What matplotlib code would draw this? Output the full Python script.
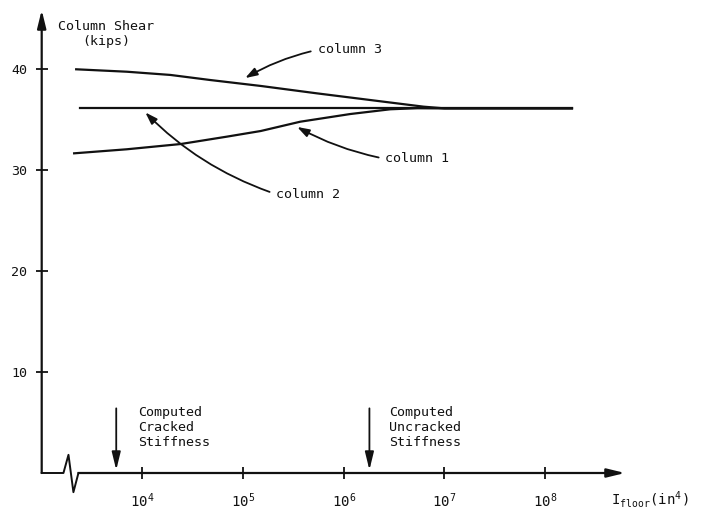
'''
plot.py  -  column shear vs. floor stiffness (log scale), typewriter style
'''

import matplotlib
matplotlib.use('Agg')
import matplotlib.pyplot as plt

plt.rcParams['font.family'] = ['DejaVu Sans Mono', 'DejaVu Sans']
plt.rcParams['mathtext.fontset'] = 'custom'
plt.rcParams['mathtext.rm'] = 'DejaVu Sans Mono'
plt.rcParams['mathtext.it'] = 'DejaVu Sans Mono'
plt.rcParams['mathtext.bf'] = 'DejaVu Sans Mono'

# I_floor (in^4) and column shear (kips)
col3_x = [2.2e3, 7.0e3, 1.9e4, 4.7e4, 1.5e5, 5.4e5, 2.5e6, 6.2e6, 1.0e7, 1.85e8]
col3_y = [39.97, 39.73, 39.41, 38.91, 38.32, 37.59, 36.76, 36.27, 36.1, 36.1]

col2_x = [2.4e3, 1.85e8]
col2_y = [36.1, 36.1]

col1_x = [2.1e3, 7.0e3, 2.4e4, 6.9e4, 1.5e5, 3.7e5, 1.16e6, 2.9e6, 5.4e6, 1.0e7, 1.85e8]
col1_y = [31.65, 32.05, 32.57, 33.30, 33.86, 34.78, 35.54, 36.01, 36.12, 36.1, 36.1]

cracked_I = 5.5e3
uncracked_I = 1.8e6

yticks = [10, 20, 30, 40]
xticks = [1e4, 1e5, 1e6, 1e7, 1e8]
xticklabels = [r'$10^{4}$', r'$10^{5}$', r'$10^{6}$', r'$10^{7}$', r'$10^{8}$']

INK = '#111111'
FS = 9.6

W, H = 709, 520
fig = plt.figure(figsize=(W / 100, H / 100), dpi=100)
ax = fig.add_axes([41.7 / W, 1 - 473 / H, (625 - 41.7) / W, (473 - 10) / H])

ax.set_xscale('log')
ax.set_xlim(1e3, 10 ** 8.794)
ax.set_ylim(0, 45.84)

for s in ax.spines.values():
    s.set_visible(False)

# curves
ax.plot(col3_x, col3_y, color=INK, lw=1.6)
ax.plot(col2_x, col2_y, color=INK, lw=1.6)
ax.plot(col1_x, col1_y, color=INK, lw=1.6)

# axes drawn by hand (arrows + break in the x axis)
arrow_kw = dict(arrowstyle='-|>,head_length=0.9,head_width=0.22', color=INK,
                lw=1.6, shrinkA=0, shrinkB=0, mutation_scale=12)
ax.annotate('', xy=(1e3, 45.84), xytext=(1e3, 0), xycoords='data',
            arrowprops=arrow_kw, annotation_clip=False)
ax.annotate('', xy=(10 ** 8.794, 0), xytext=(10 ** 3.365, 0),
            arrowprops=arrow_kw, annotation_clip=False)
ax.plot([1e3, 10 ** 3.216, 10 ** 3.266, 10 ** 3.315, 10 ** 3.365],
        [0, 0, 1.8, -1.9, 0], color=INK, lw=1.4, clip_on=False)

ax.set_yticks(yticks)
ax.set_yticklabels([str(v) for v in yticks])
ax.set_xticks(xticks)
ax.set_xticklabels(xticklabels)
ax.minorticks_off()
ax.tick_params(axis='both', direction='inout', length=9, width=1.3, color=INK,
               labelsize=FS, labelcolor=INK)
ax.tick_params(axis='y', pad=6)
ax.tick_params(axis='x', pad=9, labelsize=FS + 0.6)

# axis titles
fig.text(106 / W, 1 - 34 / H, 'Column Shear\n(kips)', ha='center', va='center',
         fontsize=FS, color=INK, linespacing=1.25)
fig.text(611 / W, 1 - 505 / H,
         r'$\mathrm{I}_{\mathrm{floor}}\mathrm{(in}^{4}\mathrm{)}$',
         ha='left', va='baseline', fontsize=FS + 0.5, color=INK)

# curve labels
lab_arrow = dict(arrowstyle='-|>,head_length=0.6,head_width=0.2', color=INK,
                 lw=1.3, shrinkA=3, shrinkB=0, mutation_scale=12, relpos=(0, 0.5))
ax.annotate('column 3', xy=(1.05e5, 39.1), xytext=(5.5e5, 41.9),
            ha='left', va='center', fontsize=FS, color=INK,
            arrowprops=dict(lab_arrow, connectionstyle='arc3,rad=0.08'))
ax.annotate('column 1', xy=(3.45e5, 34.26), xytext=(2.6e6, 31.1),
            ha='left', va='center', fontsize=FS, color=INK,
            arrowprops=dict(lab_arrow, connectionstyle='arc3,rad=-0.08'))
ax.annotate('column 2', xy=(1.07e4, 35.7), xytext=(2.14e5, 27.6),
            ha='left', va='center', fontsize=FS, color=INK,
            arrowprops=dict(lab_arrow, connectionstyle='arc3,rad=-0.12'))

# computed stiffness markers
mark_arrow = dict(arrowstyle='-|>,head_length=0.9,head_width=0.22', color=INK,
                  lw=1.3, shrinkA=0, shrinkB=0, mutation_scale=12)
ax.annotate('', xy=(cracked_I, 0.3), xytext=(cracked_I, 6.4), arrowprops=mark_arrow)
ax.annotate('', xy=(uncracked_I, 0.3), xytext=(uncracked_I, 6.4), arrowprops=mark_arrow)
ax.text(9.1e3, 4.46, 'Computed\nCracked\nStiffness', ha='left', va='center',
        fontsize=FS, color=INK, linespacing=1.2)
ax.text(2.83e6, 4.46, 'Computed\nUncracked\nStiffness', ha='left', va='center',
        fontsize=FS, color=INK, linespacing=1.2)

fig.savefig('out.png', dpi=100, facecolor='white')
